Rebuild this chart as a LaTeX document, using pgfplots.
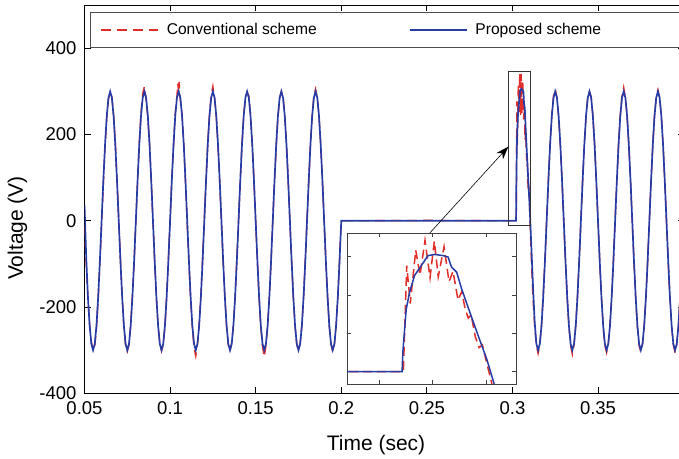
\documentclass[border=0pt]{standalone}
\usepackage{fontspec}
\setmainfont{Liberation Sans}
\usepackage{pgfplots}
\pgfplotsset{compat=1.18}
\usepackage{pgfplotstable}
\usetikzlibrary{arrows.meta}
\definecolor{convred}{RGB}{225,45,40}
\definecolor{propblue}{RGB}{40,60,165}

\pgfplotstableread[row sep=\\]{
t v\\
0.050 37\\ 0.051 -85\\ 0.052 -176.3\\ 0.053 -242.7\\ 0.054 -285.3\\ 0.055 -300\\ 0.056 -285.3\\ 0.057 -242.7\\ 0.058 -176.3\\ 0.059 -92.7\\
0.060 0\\ 0.061 92.7\\ 0.062 176.3\\ 0.063 242.7\\ 0.064 285.3\\ 0.065 300\\ 0.066 285.3\\ 0.067 242.7\\ 0.068 176.3\\ 0.069 92.7\\ 0.070 0\\ 0.071 -92.7\\ 0.072 -176.3\\ 0.073 -242.7\\ 0.074 -285.3\\ 0.075 -300\\ 0.076 -285.3\\ 0.077 -242.7\\ 0.078 -176.3\\ 0.079 -92.7\\
0.080 0\\ 0.081 92.7\\ 0.082 176.3\\ 0.083 242.7\\ 0.084 285.3\\ 0.085 300\\ 0.086 285.3\\ 0.087 242.7\\ 0.088 176.3\\ 0.089 92.7\\ 0.090 0\\ 0.091 -92.7\\ 0.092 -176.3\\ 0.093 -242.7\\ 0.094 -285.3\\ 0.095 -300\\ 0.096 -285.3\\ 0.097 -242.7\\ 0.098 -176.3\\ 0.099 -92.7\\
0.100 0\\ 0.101 92.7\\ 0.102 176.3\\ 0.103 242.7\\ 0.104 285.3\\ 0.105 300\\ 0.106 285.3\\ 0.107 242.7\\ 0.108 176.3\\ 0.109 92.7\\ 0.110 0\\ 0.111 -92.7\\ 0.112 -176.3\\ 0.113 -242.7\\ 0.114 -285.3\\ 0.115 -300\\ 0.116 -285.3\\ 0.117 -242.7\\ 0.118 -176.3\\ 0.119 -92.7\\
0.120 0\\ 0.121 92.7\\ 0.122 176.3\\ 0.123 242.7\\ 0.124 285.3\\ 0.125 300\\ 0.126 285.3\\ 0.127 242.7\\ 0.128 176.3\\ 0.129 92.7\\ 0.130 0\\ 0.131 -92.7\\ 0.132 -176.3\\ 0.133 -242.7\\ 0.134 -285.3\\ 0.135 -300\\ 0.136 -285.3\\ 0.137 -242.7\\ 0.138 -176.3\\ 0.139 -92.7\\
0.140 0\\ 0.141 92.7\\ 0.142 176.3\\ 0.143 242.7\\ 0.144 285.3\\ 0.145 300\\ 0.146 285.3\\ 0.147 242.7\\ 0.148 176.3\\ 0.149 92.7\\ 0.150 0\\ 0.151 -92.7\\ 0.152 -176.3\\ 0.153 -242.7\\ 0.154 -285.3\\ 0.155 -300\\ 0.156 -285.3\\ 0.157 -242.7\\ 0.158 -176.3\\ 0.159 -92.7\\
0.160 0\\ 0.161 92.7\\ 0.162 176.3\\ 0.163 242.7\\ 0.164 285.3\\ 0.165 300\\ 0.166 285.3\\ 0.167 242.7\\ 0.168 176.3\\ 0.169 92.7\\ 0.170 0\\ 0.171 -92.7\\ 0.172 -176.3\\ 0.173 -242.7\\ 0.174 -285.3\\ 0.175 -300\\ 0.176 -285.3\\ 0.177 -242.7\\ 0.178 -176.3\\ 0.179 -92.7\\
0.180 0\\ 0.181 92.7\\ 0.182 176.3\\ 0.183 242.7\\ 0.184 285.3\\ 0.185 300\\ 0.186 285.3\\ 0.187 242.7\\ 0.188 176.3\\ 0.189 92.7\\ 0.190 0\\ 0.191 -92.7\\ 0.192 -176.3\\ 0.193 -242.7\\ 0.194 -285.3\\ 0.195 -300\\ 0.196 -285.3\\ 0.197 -242.7\\ 0.198 -176.3\\ 0.199 -92.7\\
0.200 0\\ 0.250 0\\
0.30213 0\\ 0.30222 58\\ 0.30252 163\\ 0.30283 207\\ 0.30330 251\\ 0.30393 277\\ 0.30456 303\\ 0.30519 306\\ 0.30597 303\\ 0.30644 299\\ 0.30676 273\\ 0.30724 260\\ 0.30771 216\\ 0.30849 154\\ 0.30927 93\\ 0.31007 32\\ 0.31054 -12\\ 0.3110 -55\\ 0.3120 -150\\ 0.3130 -235\\
0.314 -285.3\\ 0.315 -300\\ 0.316 -285.3\\ 0.317 -242.7\\ 0.318 -176.3\\ 0.319 -92.7\\
0.320 0\\ 0.321 92.7\\ 0.322 176.3\\ 0.323 242.7\\ 0.324 285.3\\ 0.325 300\\ 0.326 285.3\\ 0.327 242.7\\ 0.328 176.3\\ 0.329 92.7\\ 0.330 0\\ 0.331 -92.7\\ 0.332 -176.3\\ 0.333 -242.7\\ 0.334 -285.3\\ 0.335 -300\\ 0.336 -285.3\\ 0.337 -242.7\\ 0.338 -176.3\\ 0.339 -92.7\\
0.340 0\\ 0.341 92.7\\ 0.342 176.3\\ 0.343 242.7\\ 0.344 285.3\\ 0.345 300\\ 0.346 285.3\\ 0.347 242.7\\ 0.348 176.3\\ 0.349 92.7\\ 0.350 0\\ 0.351 -92.7\\ 0.352 -176.3\\ 0.353 -242.7\\ 0.354 -285.3\\ 0.355 -300\\ 0.356 -285.3\\ 0.357 -242.7\\ 0.358 -176.3\\ 0.359 -92.7\\
0.360 0\\ 0.361 92.7\\ 0.362 176.3\\ 0.363 242.7\\ 0.364 285.3\\ 0.365 300\\ 0.366 285.3\\ 0.367 242.7\\ 0.368 176.3\\ 0.369 92.7\\ 0.370 0\\ 0.371 -92.7\\ 0.372 -176.3\\ 0.373 -242.7\\ 0.374 -285.3\\ 0.375 -300\\ 0.376 -285.3\\ 0.377 -242.7\\ 0.378 -176.3\\ 0.379 -92.7\\
0.380 0\\ 0.381 92.7\\ 0.382 176.3\\ 0.383 242.7\\ 0.384 285.3\\ 0.385 300\\ 0.386 285.3\\ 0.387 242.7\\ 0.388 176.3\\ 0.389 92.7\\ 0.390 0\\ 0.391 -92.7\\ 0.392 -176.3\\ 0.393 -242.7\\ 0.394 -285.3\\ 0.395 -300\\ 0.396 -285.3\\ 0.397 -242.7\\ 0.398 -176.3\\ 0.399 -92.7\\
0.400 0\\
}\bluedata

\pgfplotstableread[row sep=\\]{
t v\\
0.050 -11\\ 0.051 -100\\ 0.052 -182\\ 0.053 -240\\ 0.054 -280\\ 0.055 -298\\ 0.056 -290\\ 0.057 -248\\ 0.058 -180\\ 0.059 -98\\
0.060 -5\\ 0.061 85\\ 0.062 170\\ 0.063 238\\ 0.064 282\\ 0.065 296\\ 0.066 288\\ 0.067 245\\ 0.068 182\\ 0.069 95\\
0.070 4\\ 0.071 -90\\ 0.072 -172\\ 0.073 -246\\ 0.074 -290\\ 0.075 -303\\ 0.076 -288\\ 0.077 -240\\ 0.078 -170\\ 0.079 -95\\
0.080 -2\\ 0.081 90\\ 0.082 180\\ 0.083 250\\ 0.084 295\\ 0.085 312\\ 0.086 280\\ 0.087 240\\ 0.088 180\\ 0.089 90\\
0.090 -3\\ 0.091 -95\\ 0.092 -180\\ 0.093 -245\\ 0.094 -283\\ 0.095 -302\\ 0.096 -288\\ 0.097 -244\\ 0.098 -175\\ 0.099 -90\\
0.100 2\\ 0.101 96\\ 0.102 172\\ 0.103 250\\ 0.104 290\\ 0.1045 318\\ 0.105 298\\ 0.1053 322\\ 0.1057 292\\ 0.106 280\\ 0.107 246\\ 0.108 178\\ 0.109 90\\
0.110 -6\\ 0.111 -98\\ 0.112 -182\\ 0.113 -248\\ 0.114 -295\\ 0.115 -314\\ 0.116 -286\\ 0.117 -238\\ 0.118 -170\\ 0.119 -88\\
0.120 5\\ 0.121 95\\ 0.122 180\\ 0.123 245\\ 0.124 292\\ 0.125 312\\ 0.1255 296\\ 0.126 284\\ 0.127 240\\ 0.128 172\\ 0.129 88\\
0.130 -4\\ 0.131 -95\\ 0.132 -178\\ 0.133 -244\\ 0.134 -288\\ 0.135 -304\\ 0.136 -282\\ 0.137 -240\\ 0.138 -172\\ 0.139 -90\\
0.140 3\\ 0.141 94\\ 0.142 178\\ 0.143 244\\ 0.144 284\\ 0.145 298\\ 0.146 290\\ 0.147 246\\ 0.148 180\\ 0.149 94\\
0.150 -2\\ 0.151 -92\\ 0.152 -178\\ 0.153 -246\\ 0.154 -292\\ 0.155 -316\\ 0.156 -290\\ 0.157 -244\\ 0.158 -174\\ 0.159 -92\\
0.160 2\\ 0.161 90\\ 0.162 174\\ 0.163 240\\ 0.164 284\\ 0.165 300\\ 0.166 288\\ 0.167 244\\ 0.168 178\\ 0.169 92\\
0.170 -3\\ 0.171 -94\\ 0.172 -178\\ 0.173 -244\\ 0.174 -286\\ 0.175 -302\\ 0.176 -284\\ 0.177 -242\\ 0.178 -174\\ 0.179 -90\\
0.180 2\\ 0.181 92\\ 0.182 176\\ 0.183 244\\ 0.184 290\\ 0.185 306\\ 0.186 286\\ 0.187 244\\ 0.188 176\\ 0.189 92\\
0.190 -2\\ 0.191 -92\\ 0.192 -176\\ 0.193 -244\\ 0.194 -286\\ 0.195 -304\\ 0.196 -286\\ 0.197 -242\\ 0.198 -176\\ 0.199 -92\\
0.200 0\\ 0.250 1\\
0.30225 0\\ 0.30257 277\\ 0.30290 178\\ 0.30341 317\\ 0.30381 252\\ 0.30428 343\\ 0.30475 245\\ 0.30515 341\\ 0.30552 248\\ 0.30606 326\\ 0.30653 235\\ 0.30690 262\\ 0.30737 187\\ 0.30772 209\\ 0.30802 166\\ 0.30833 140\\ 0.30860 148\\ 0.30900 90\\ 0.30935 63\\ 0.30965 70\\ 0.31040 -16\\ 0.3110 -85\\ 0.3120 -180\\ 0.3130 -245\\
0.314 -290\\ 0.315 -308\\ 0.316 -288\\ 0.317 -240\\ 0.318 -172\\ 0.319 -90\\
0.320 3\\ 0.321 94\\ 0.322 178\\ 0.323 246\\ 0.324 290\\ 0.325 306\\ 0.326 286\\ 0.327 240\\ 0.328 174\\ 0.329 90\\
0.330 -4\\ 0.331 -96\\ 0.332 -180\\ 0.333 -246\\ 0.334 -290\\ 0.335 -310\\ 0.336 -288\\ 0.337 -242\\ 0.338 -174\\ 0.339 -92\\
0.340 2\\ 0.341 92\\ 0.342 176\\ 0.343 242\\ 0.344 286\\ 0.345 300\\ 0.346 288\\ 0.347 244\\ 0.348 178\\ 0.349 92\\
0.350 -2\\ 0.351 -94\\ 0.352 -178\\ 0.353 -244\\ 0.354 -290\\ 0.355 -306\\ 0.356 -286\\ 0.357 -240\\ 0.358 -174\\ 0.359 -90\\
0.360 3\\ 0.361 94\\ 0.362 178\\ 0.363 244\\ 0.364 290\\ 0.365 310\\ 0.366 286\\ 0.367 242\\ 0.368 176\\ 0.369 92\\
0.370 -3\\ 0.371 -94\\ 0.372 -178\\ 0.373 -246\\ 0.374 -290\\ 0.375 -304\\ 0.376 -286\\ 0.377 -242\\ 0.378 -176\\ 0.379 -92\\
0.380 2\\ 0.381 92\\ 0.382 176\\ 0.383 244\\ 0.384 288\\ 0.385 304\\ 0.386 286\\ 0.387 242\\ 0.388 176\\ 0.389 92\\
0.390 -2\\ 0.391 -94\\ 0.392 -178\\ 0.393 -244\\ 0.394 -288\\ 0.395 -306\\ 0.396 -286\\ 0.397 -242\\ 0.398 -176\\ 0.399 -92\\
0.400 0\\
}\reddata

\begin{document}
\begin{tikzpicture}
\useasboundingbox (0,0) rectangle (679bp,459bp);
\begin{axis}[
  at={(84.5bp,65.7bp)}, anchor=south west,
  scale only axis, width=599.1bp, height=388.1bp,
  xmin=0.05, xmax=0.4, ymin=-400, ymax=500,
  xtick={0.05,0.1,0.15,0.2,0.25,0.3,0.35},
  xticklabels={0.05,0.1,0.15,0.2,0.25,0.3,0.35},
  ytick={-400,-200,0,200,400},
  yticklabels={-400,-200,0,200,400},
  tick align=inside, tick pos=both, major tick length=6bp,
  axis line style={line width=0.8bp},
  every tick/.style={black, line width=0.8bp},
  tick label style={font=\fontsize{18.5bp}{21bp}\selectfont},
  xticklabel shift=5bp, yticklabel shift=4.5bp,
  xlabel={Time (sec)}, ylabel={Voltage (V)},
  label style={font=\fontsize{21bp}{24bp}\selectfont},
  xlabel style={at={(axis description cs:0.4866,-0.1332)}, anchor=center},
  ylabel style={at={(axis description cs:-0.1118,0.426)}, anchor=center},
  legend columns=3,
  legend cell align=left,
  legend image code/.code={\draw[#1] (0bp,0bp) -- (57bp,0bp);},
  legend style={at={(axis description cs:0.0092,0.9825)}, anchor=north west,
    draw=black!70, line width=0.8bp, fill=white,
    font=\fontsize{15.6bp}{18bp}\selectfont,
    inner xsep=10bp, inner ysep=9.2bp,
    /tikz/every odd column/.append style={column sep=6bp},
    /tikz/every even column/.append style={column sep=90bp}},
]
\addplot[convred, line width=1.35bp, dash pattern=on 10bp off 6bp] table[x=t,y=v]{\reddata};
\addlegendentry{Conventional scheme}
\addplot[propblue, line width=1.7bp] table[x=t,y=v]{\bluedata};
\addlegendentry{Proposed scheme}
\addlegendimage{empty legend}
\addlegendentry{}
\draw[black!80, line width=0.8bp] (axis cs:0.2976,-9.7) rectangle (axis cs:0.3107,346);
\draw[black, line width=0.6bp, -{Stealth[length=13bp,width=9bp]}] (axis cs:0.2518,-28) -- (axis cs:0.2976,172);
\end{axis}
\begin{axis}[
  at={(347bp,75bp)}, anchor=south west,
  scale only axis, width=169bp, height=151bp,
  xmin=0.29698, xmax=0.3128, ymin=-32, ymax=362,
  xtick={0.3,0.305,0.31}, ytick={0,100,200,300},
  xticklabels={}, yticklabels={},
  tick align=inside, tick pos=both, major tick length=4bp,
  axis background/.style={fill=white},
  axis line style={black!75, line width=0.8bp},
  every tick/.style={black!75, line width=0.6bp},
]
\addplot[convred, line width=1.5bp, dash pattern=on 9bp off 5bp] table[x=t,y=v]{\reddata};
\addplot[propblue, line width=1.5bp] table[x=t,y=v]{\bluedata};
\end{axis}
\end{tikzpicture}
\end{document}
